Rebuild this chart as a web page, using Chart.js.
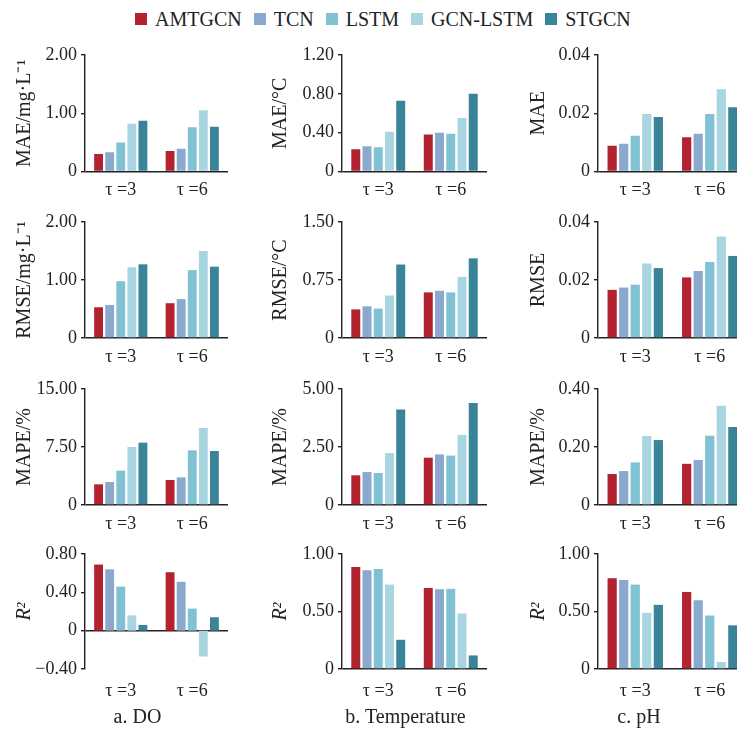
<!DOCTYPE html>
<html><head><meta charset="utf-8">
<script src="https://cdn.jsdelivr.net/npm/chart.js@4.4.0/dist/chart.umd.min.js"></script>
<style>
html,body{margin:0;padding:0;background:#fff;}
body{width:737px;height:729px;position:relative;overflow:hidden;font-family:'Liberation Serif','Times New Roman',serif;color:#222;}
canvas{position:absolute;}
#legend{position:absolute;left:135px;top:8px;display:flex;align-items:center;font-size:20px;line-height:22px;white-space:nowrap;}
.item{display:flex;align-items:center;margin-right:12px;}
.sw{width:12px;height:12px;margin-right:8px;}
.ptitle{position:absolute;font-size:20px;line-height:20px;transform:translateX(-50%);white-space:nowrap;}
</style></head><body>
<div id="legend"></div>
<script>
const categories = ['τ =3', 'τ =6'];
const seriesNames = ['AMTGCN', 'TCN', 'LSTM', 'GCN-LSTM', 'STGCN'];
const seriesColors = ['#B2232F', '#8AA9CC', '#80C2D3', '#A9D5E1', '#3A8499'];
const panelTitles = ['a. DO', 'b. Temperature', 'c. pH'];

// each array: one [τ=3, τ=6] pair per series, in seriesNames order
const DO_MAE    = [[0.30, 0.35], [0.33, 0.39], [0.50, 0.76], [0.82, 1.05], [0.87, 0.77]];
const TEMP_MAE  = [[0.23, 0.38], [0.26, 0.40], [0.25, 0.39], [0.41, 0.55], [0.73, 0.80]];
const PH_MAE    = [[0.0088, 0.0118], [0.0095, 0.0130], [0.0123, 0.0197], [0.0197, 0.0282], [0.0187, 0.0221]];

const DO_RMSE   = [[0.53, 0.60], [0.57, 0.67], [0.98, 1.17], [1.22, 1.50], [1.27, 1.23]];
const TEMP_RMSE = [[0.37, 0.59], [0.41, 0.61], [0.38, 0.59], [0.55, 0.79], [0.95, 1.03]];
const PH_RMSE   = [[0.0166, 0.0209], [0.0174, 0.0231], [0.0184, 0.0262], [0.0257, 0.0350], [0.0241, 0.0283]];

const DO_MAPE   = [[2.67, 3.23], [2.97, 3.58], [4.44, 7.07], [7.50, 9.96], [8.06, 6.98]];
const TEMP_MAPE = [[1.28, 2.04], [1.42, 2.18], [1.38, 2.13], [2.24, 3.02], [4.12, 4.40]];
const PH_MAPE   = [[0.107, 0.142], [0.117, 0.155], [0.147, 0.239], [0.238, 0.342], [0.224, 0.269]];

const DO_R2     = [[0.69, 0.61], [0.64, 0.51], [0.46, 0.23], [0.16, -0.27], [0.06, 0.14]];
const TEMP_R2   = [[0.887, 0.705], [0.858, 0.694], [0.870, 0.697], [0.734, 0.483], [0.254, 0.118]];
const PH_R2     = [[0.790, 0.670], [0.775, 0.598], [0.734, 0.465], [0.488, 0.061], [0.558, 0.380]];

// axis ranges: [min, max, step]
const panels = [
  [{d: DO_MAE, t: 'MAE/mg·L⁻¹', r: [0, 2, 1]}, {d: TEMP_MAE, t: 'MAE/°C', r: [0, 1.2, 0.4]}, {d: PH_MAE, t: 'MAE', r: [0, 0.04, 0.02]}],
  [{d: DO_RMSE, t: 'RMSE/mg·L⁻¹', r: [0, 2, 1]}, {d: TEMP_RMSE, t: 'RMSE/°C', r: [0, 1.5, 0.75]}, {d: PH_RMSE, t: 'RMSE', r: [0, 0.04, 0.02]}],
  [{d: DO_MAPE, t: 'MAPE/%', r: [0, 15, 7.5]}, {d: TEMP_MAPE, t: 'MAPE/%', r: [0, 5, 2.5]}, {d: PH_MAPE, t: 'MAPE/%', r: [0, 0.4, 0.2]}],
  [{d: DO_R2, t: 'R²', r: [-0.4, 0.8, 0.4], it: true}, {d: TEMP_R2, t: 'R²', r: [0, 1, 0.5], it: true}, {d: PH_R2, t: 'R²', r: [0, 1, 0.5], it: true}]
];

const FAM = "'Liberation Serif','Times New Roman',serif";
const INK = '#222';

const cols = [
  {left: 0,   width: 245, yW: 85,  padR: 17, titlePad: 13, titleX: 137.5},
  {left: 245, width: 250, yW: 97,  padR: 8,  titlePad: 24, titleX: 405.5},
  {left: 495, width: 260, yW: 103, padR: 8,  titlePad: 32, titleX: 639}
];
const rows = [
  {top: 35,  areaTop: 55,  areaBottom: 171.5, bottom: 212, tickPad: 8},
  {top: 200, areaTop: 222, areaBottom: 338,   bottom: 378, tickPad: 8},
  {top: 368, areaTop: 389, areaBottom: 505,   bottom: 545, tickPad: 8},
  {top: 535, areaTop: 554, areaBottom: 669,   bottom: 729, tickPad: 11}
];

function fmt(v) {
  if (Math.abs(v) < 1e-9) return '0';
  const s = Math.abs(v).toFixed(2);
  return v < 0 ? '−' + s : s;
}

// legend
const leg = document.getElementById('legend');
seriesNames.forEach((n, i) => {
  const it = document.createElement('div'); it.className = 'item';
  const sw = document.createElement('div'); sw.className = 'sw'; sw.style.background = seriesColors[i];
  const tx = document.createElement('span'); tx.textContent = n;
  it.appendChild(sw); it.appendChild(tx); leg.appendChild(it);
});

rows.forEach((row, ri) => {
  cols.forEach((col, ci) => {
    const p = panels[ri][ci];
    const cv = document.createElement('canvas');
    cv.width = col.width; cv.height = row.bottom - row.top;
    cv.style.left = col.left + 'px'; cv.style.top = row.top + 'px';
    cv.style.width = col.width + 'px'; cv.style.height = (row.bottom - row.top) + 'px';
    document.body.appendChild(cv);
    new Chart(cv, {
      type: 'bar',
      data: {
        labels: categories,
        datasets: seriesNames.map((n, i) => ({
          label: n, data: p.d[i], backgroundColor: seriesColors[i],
          barPercentage: 0.8, categoryPercentage: 0.775, borderWidth: 0
        }))
      },
      options: {
        responsive: false, animation: false, devicePixelRatio: 1,
        layout: {padding: {left: 0, right: col.padR, top: row.areaTop - row.top, bottom: 0}},
        plugins: {legend: {display: false}, tooltip: {enabled: false}},
        scales: {
          x: {
            grid: {display: false, drawTicks: false, tickLength: 0}, border: {display: false},
            ticks: {color: INK, font: {family: FAM, size: 18}, padding: row.tickPad, maxRotation: 0, autoSkip: false},
            afterFit: s => { s.height = row.bottom - row.areaBottom; }
          },
          y: {
            min: p.r[0], max: p.r[1],
            ticks: {stepSize: p.r[2], callback: fmt, color: INK, font: {family: FAM, size: 18}, padding: 4},
            grid: {
              color: c => (c.tick && Math.abs(c.tick.value) < 1e-9) ? INK : 'rgba(0,0,0,0)',
              lineWidth: 1.4, tickColor: INK, tickLength: 4, drawTicks: true
            },
            border: {display: true, color: INK, width: 1.4},
            title: {display: true, text: p.t, color: INK,
              font: {family: FAM, size: 20, style: p.it ? 'italic' : 'normal'},
              padding: {top: col.titlePad, bottom: 0}},
            afterFit: s => { s.width = col.yW; }
          }
        }
      }
    });
  });
});

cols.forEach((col, ci) => {
  const d = document.createElement('div');
  d.className = 'ptitle'; d.textContent = panelTitles[ci];
  d.style.left = col.titleX + 'px'; d.style.top = '706px';
  document.body.appendChild(d);
});
</script></body></html>
